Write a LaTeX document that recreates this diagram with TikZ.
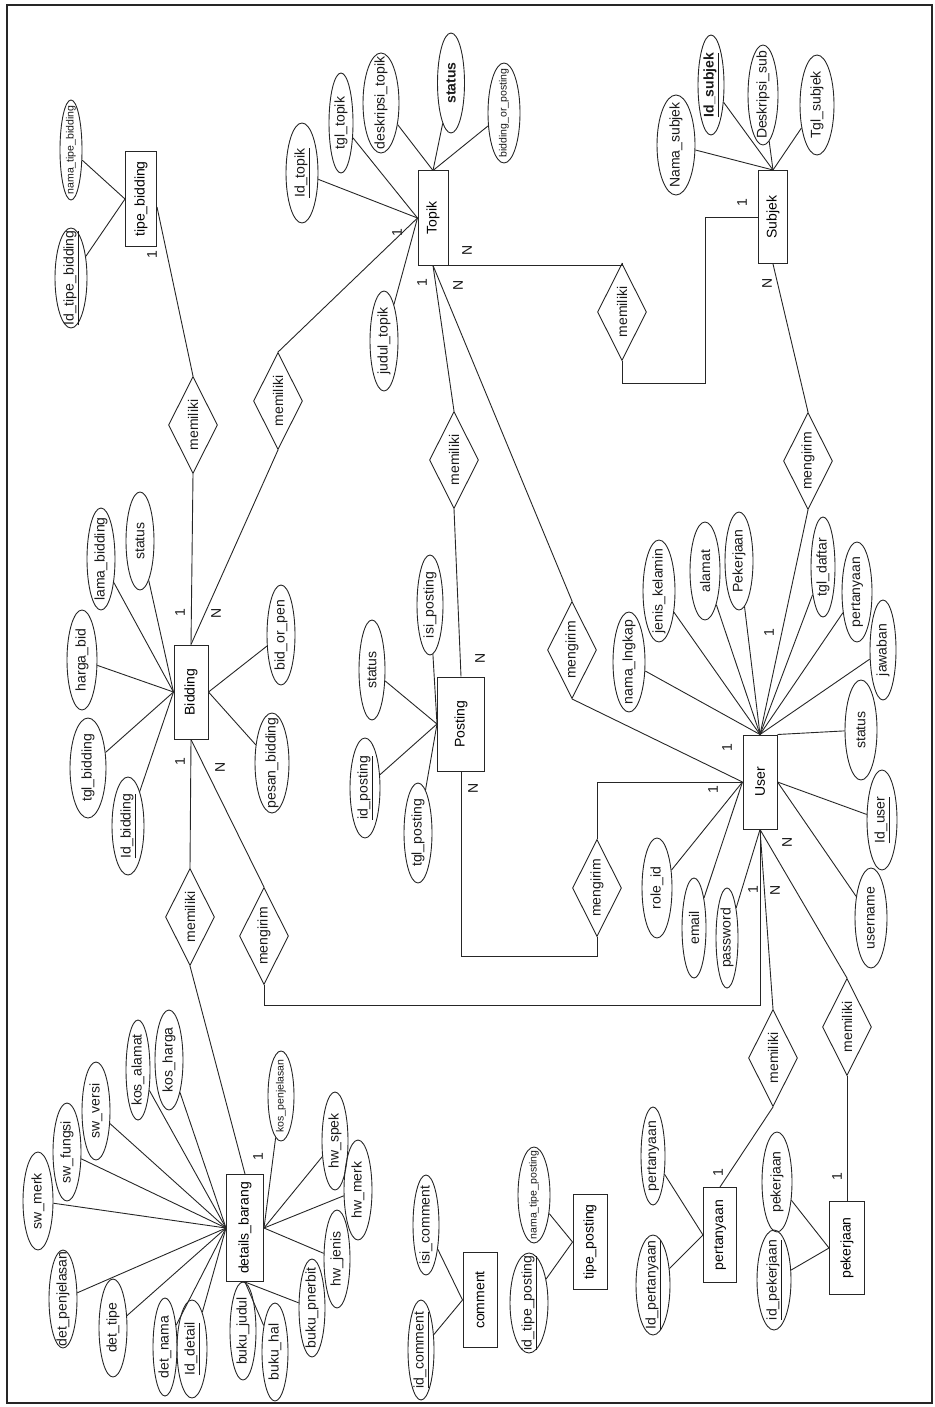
\documentclass[tikz,border=0pt]{standalone}
\usepackage{fontspec}
\setmainfont{Liberation Sans}
\usetikzlibrary{shapes.geometric,calc}
\newcommand\fa{\fontsize{14}{14}\selectfont}
\newcommand\fsm{\fontsize{10.5}{11}\selectfont}
\tikzset{
 ln/.style={draw=black!85, line width=0.9pt},
 ent/.style={draw=black!85, line width=1pt, rectangle, inner sep=0pt, font=\fa},
 attrshape/.style={draw=black!85, line width=0.9pt, ellipse, inner sep=0pt},
 relshape/.style={draw=black!85, line width=0.9pt, diamond, inner sep=0pt, minimum width=49pt, minimum height=97pt},
 lbl/.style={font=\fa, inner sep=0pt, text=black!90},
 card/.style={font=\fa, inner sep=0pt, rotate=90, text=black!90},
}
\newcommand\myattr[6]{\node[attrshape,minimum width=#4pt,minimum height=#5pt] (#1) at (#2,#3) {};\node[lbl] (#1t) at (#1) {\rotatebox{90}{#6}};}
\newcommand\myrel[4]{\node[relshape] (#1) at (#2,#3) {};\node[lbl] (#1t) at (#1) {\rotatebox{90}{#4}};}
\newcommand\myent[6]{\node[ent,minimum width=#4pt,minimum height=#5pt] (#1) at (#2,#3) {\rotatebox{90}{#6}};}
\begin{document}
\begin{tikzpicture}[x=1pt,y=-1pt]
\useasboundingbox (0,0) rectangle (934,1407);
\draw[line width=1.5pt, black!85] (7,5) rectangle (932,1403);
% entities
\myent{tb}{141}{199}{31}{95}{tipe\_bidding}
\myent{topik}{433}{218}{30}{94}{Topik}
\myent{subjek}{773}{217}{29}{93}{Subjek}
\myent{bid}{191}{692}{34}{94}{Bidding}
\myent{post}{461}{724}{47}{94}{Posting}
\myent{user}{760}{782}{34}{94}{User}
\myent{db}{245}{1228}{37}{107}{details\_barang}
\myent{com}{480}{1300}{34}{95}{comment}
\myent{tp}{590}{1242}{34}{95}{tipe\_posting}
\myent{pert}{720}{1235}{33}{95}{pertanyaan}
\myent{pek}{847}{1248}{35}{93}{pekerjaan}
% relationships
\myrel{rtb}{193}{425}{memiliki}
\myrel{rbt}{278}{401}{memiliki}
\myrel{rbd}{190}{917}{memiliki}
\myrel{rbu}{264}{936}{mengirim}
\myrel{rtp}{454}{460}{memiliki}
\myrel{rtu}{572}{650}{mengirim}
\myrel{rts}{622}{312}{memiliki}
\myrel{rsu}{808}{461}{mengirim}
\myrel{rpu}{597}{888}{mengirim}
\myrel{rup}{773}{1058}{memiliki}
\myrel{ruk}{847}{1027}{memiliki}
% attributes
\myattr{a1}{71}{278}{32}{100}{\underline{Id\_tipe\_bidding}}
\myattr{a2}{71}{150}{22}{100}{\fsm nama\_tipe\_bidding}
\myattr{a3}{302}{173}{32}{100}{\underline{Id\_topik}}
\myattr{a4}{341}{123}{24}{100}{tgl\_topik}
\myattr{a5}{381}{103}{36}{100}{deskripsi\_topik}
\myattr{a6}{451}{83}{27}{100}{\bfseries status}
\myattr{a7}{504}{113}{32}{100}{\fsm bidding\_or\_posting}
\myattr{a8}{384}{341}{28}{100}{judul\_topik}
\myattr{a9}{676}{145}{38}{100}{Nama\_subjek}
\myattr{a10}{711}{85}{26}{100}{\bfseries\underline{Id\_subjek}}
\myattr{a11}{763}{95}{30}{100}{Deskripsi\_sub}
\myattr{a12}{817}{105}{34}{100}{Tgl\_subjek}
\myattr{a13}{82}{660}{30}{100}{harga\_bid}
\myattr{a14}{101}{559}{28}{102}{lama\_bidding}
\myattr{a15}{140}{541}{28}{98}{status}
\myattr{a16}{281}{635}{28}{100}{bid\_or\_pen}
\myattr{a17}{88}{768}{36}{100}{tgl\_bidding}
\myattr{a18}{128}{826}{32}{98}{\underline{Id\_bidding}}
\myattr{a19}{272}{763}{34}{100}{pesan\_bidding}
\myattr{a20}{372}{670}{26}{100}{status}
\myattr{a21}{430}{605}{26}{100}{isi\_posting}
\myattr{a22}{365}{788}{30}{100}{\underline{id\_posting}}
\myattr{a23}{418}{833}{28}{100}{tgl\_posting}
\myattr{a24}{629}{662}{32}{100}{nama\_lngkap}
\myattr{a25}{659}{591}{32}{102}{jenis\_kelamin}
\myattr{a26}{705}{571}{30}{98}{alamat}
\myattr{a27}{739}{561}{28}{98}{Pekerjaan}
\myattr{a28}{823}{567}{24}{100}{tgl\_daftar}
\myattr{a29}{857}{592}{30}{100}{pertanyaan}
\myattr{a30}{883}{650}{26}{100}{jawaban}
\myattr{a31}{861}{730}{32}{100}{status}
\myattr{a32}{882}{820}{30}{100}{\underline{Id\_user}}
\myattr{a33}{871}{918}{32}{100}{username}
\myattr{a34}{657}{888}{30}{100}{role\_id}
\myattr{a35}{694}{928}{24}{100}{email}
\myattr{a36}{727}{938}{22}{100}{password}
\myattr{a37}{38}{1201}{30}{98}{sw\_merk}
\myattr{a38}{67}{1152}{28}{98}{sw\_fungsi}
\myattr{a39}{96}{1111}{28}{98}{sw\_versi}
\myattr{a40}{138}{1070}{24}{100}{kos\_alamat}
\myattr{a41}{169}{1060}{28}{100}{kos\_harga}
\myattr{a42}{281}{1096}{26}{90}{\fsm kos\_penjelasan}
\myattr{a43}{63}{1299}{28}{98}{det\_penjelasan}
\myattr{a44}{113}{1328}{28}{98}{det\_tipe}
\myattr{a45}{165}{1347}{24}{98}{det\_nama}
\myattr{a46}{192}{1349}{30}{98}{\underline{Id\_detail}}
\myattr{a47}{243}{1331}{26}{98}{buku\_judul}
\myattr{a48}{275}{1352}{26}{98}{buku\_hal}
\myattr{a49}{312}{1308}{26}{98}{buku\_pnerbit}
\myattr{a50}{337}{1259}{26}{98}{hw\_jenis}
\myattr{a51}{358}{1190}{28}{100}{hw\_merk}
\myattr{a52}{335}{1141}{26}{98}{hw\_spek}
\myattr{a53}{421}{1350}{26}{100}{\underline{id\_comment}}
\myattr{a54}{426}{1225}{26}{100}{isi\_comment}
\myattr{a55}{529}{1303}{38}{100}{\underline{id\_tipe\_posting}}
\myattr{a56}{534}{1195}{32}{96}{\fsm nama\_tipe\_posting}
\myattr{a57}{653}{1156}{24}{98}{pertanyaan}
\myattr{a58}{653}{1285}{34}{100}{\underline{Id\_pertanyaan}}
\myattr{a59}{777}{1182}{30}{100}{pekerjaan}
\myattr{a60}{774}{1280}{34}{100}{\underline{id\_pekerjaan}}
% attribute links
\foreach \a in {a1,a2} \draw[ln] (\a) -- (tb.west);
\foreach \a in {a3,a4,a8} \draw[ln] (\a) -- (topik.west);
\foreach \a in {a5,a6,a7} \draw[ln] (\a) -- (topik.north);
\foreach \a in {a9,a10,a11,a12} \draw[ln] (\a) -- (subjek.north);
\foreach \a in {a13,a14,a15,a17,a18} \draw[ln] (\a) -- (bid.west);
\foreach \a in {a16,a19} \draw[ln] (\a) -- (bid.east);
\foreach \a in {a20,a21,a22,a23} \draw[ln] (\a) -- (post.west);
\foreach \a in {a24,a25,a26,a27,a28,a29,a30} \draw[ln] (\a) -- (user.north);
\draw[ln] (a31) -- (user.north east);
\foreach \a in {a32,a33} \draw[ln] (\a) -- (user.east);
\foreach \a in {a34,a35} \draw[ln] (\a) -- (user.west);
\draw[ln] (a36) -- (user.south);
\foreach \a in {a37,a38,a39,a40,a41,a43,a44,a45,a46} \draw[ln] (\a) -- (db.west);
\foreach \a in {a42,a50,a51,a52} \draw[ln] (\a) -- (db.east);
\foreach \a in {a47,a48,a49} \draw[ln] (\a) -- (db.south);
\foreach \a in {a53,a54} \draw[ln] (\a) -- (com.west);
\foreach \a in {a55,a56} \draw[ln] (\a) -- (tp.west);
\foreach \a in {a57,a58} \draw[ln] (\a) -- (pert.west);
\foreach \a in {a59,a60} \draw[ln] (\a) -- (pek.west);
% relationship links
\draw[ln] ([yshift=-8pt]tb.east) -- (rtb.north);
\draw[ln] (rtb.south) -- (bid.north);
\draw[ln] (rbt.south) -- (bid.north);
\draw[ln] (rbt.north) -- (topik.west);
\draw[ln] (topik.south) -- (rtp.north);
\draw[ln] (rtp.south) -- (post.north);
\draw[ln] (topik.south) -- (rtu.north);
\draw[ln] (rtu.south) -- (user.west);
\draw[ln] (topik.south east) -| (rts.north);
\draw[ln] (rts.south) -- ++(0,22) -| ([xshift=-53pt]subjek.west) -- (subjek.west);
\draw[ln] (subjek.south) -- (rsu.north);
\draw[ln] (rsu.south) -- (user.north);
\draw[ln] (bid.south) -- (rbd.north);
\draw[ln] (rbd.south) -- (db.north);
\draw[ln] (bid.south) -- (rbu.north);
\draw[ln] (rbu.south) |- ([yshift=-176pt]user.south) -- (user.south);
\draw[ln] (post.south) |- ([yshift=-19pt]rpu.south) -- (rpu.south);
\draw[ln] (rpu.north) |- (user.west);
\draw[ln] (user.south) -- (rup.north);
\draw[ln] (rup.south) -- (pert.north);
\draw[ln] (user.south) -- (ruk.north);
\draw[ln] (ruk.south) -- (pek.north);
% cardinalities
\node[card] (c1) at (152,255) {1};
\node[card] (c2) at (180,613) {1};
\node[card] (c3) at (216,613) {N};
\node[card] (c4) at (180,762) {1};
\node[card] (c5) at (220,767) {N};
\node[card] (c6) at (258,1157) {1};
\node[card] (c7) at (397,233) {1};
\node[card] (c8) at (467,250) {N};
\node[card] (c9) at (422,283) {1};
\node[card] (c10) at (458,285) {N};
\node[card] (c11) at (742,203) {1};
\node[card] (c12) at (767,283) {N};
\node[card] (c13) at (769,633) {1};
\node[card] (c14) at (727,748) {1};
\node[card] (c15) at (713,790) {1};
\node[card] (c16) at (787,842) {N};
\node[card] (c17) at (753,890) {1};
\node[card] (c18) at (775,890) {N};
\node[card] (c19) at (480,658) {N};
\node[card] (c20) at (473,788) {N};
\node[card] (c21) at (718,1173) {1};
\node[card] (c22) at (837,1177) {1};
\end{tikzpicture}
\end{document}
